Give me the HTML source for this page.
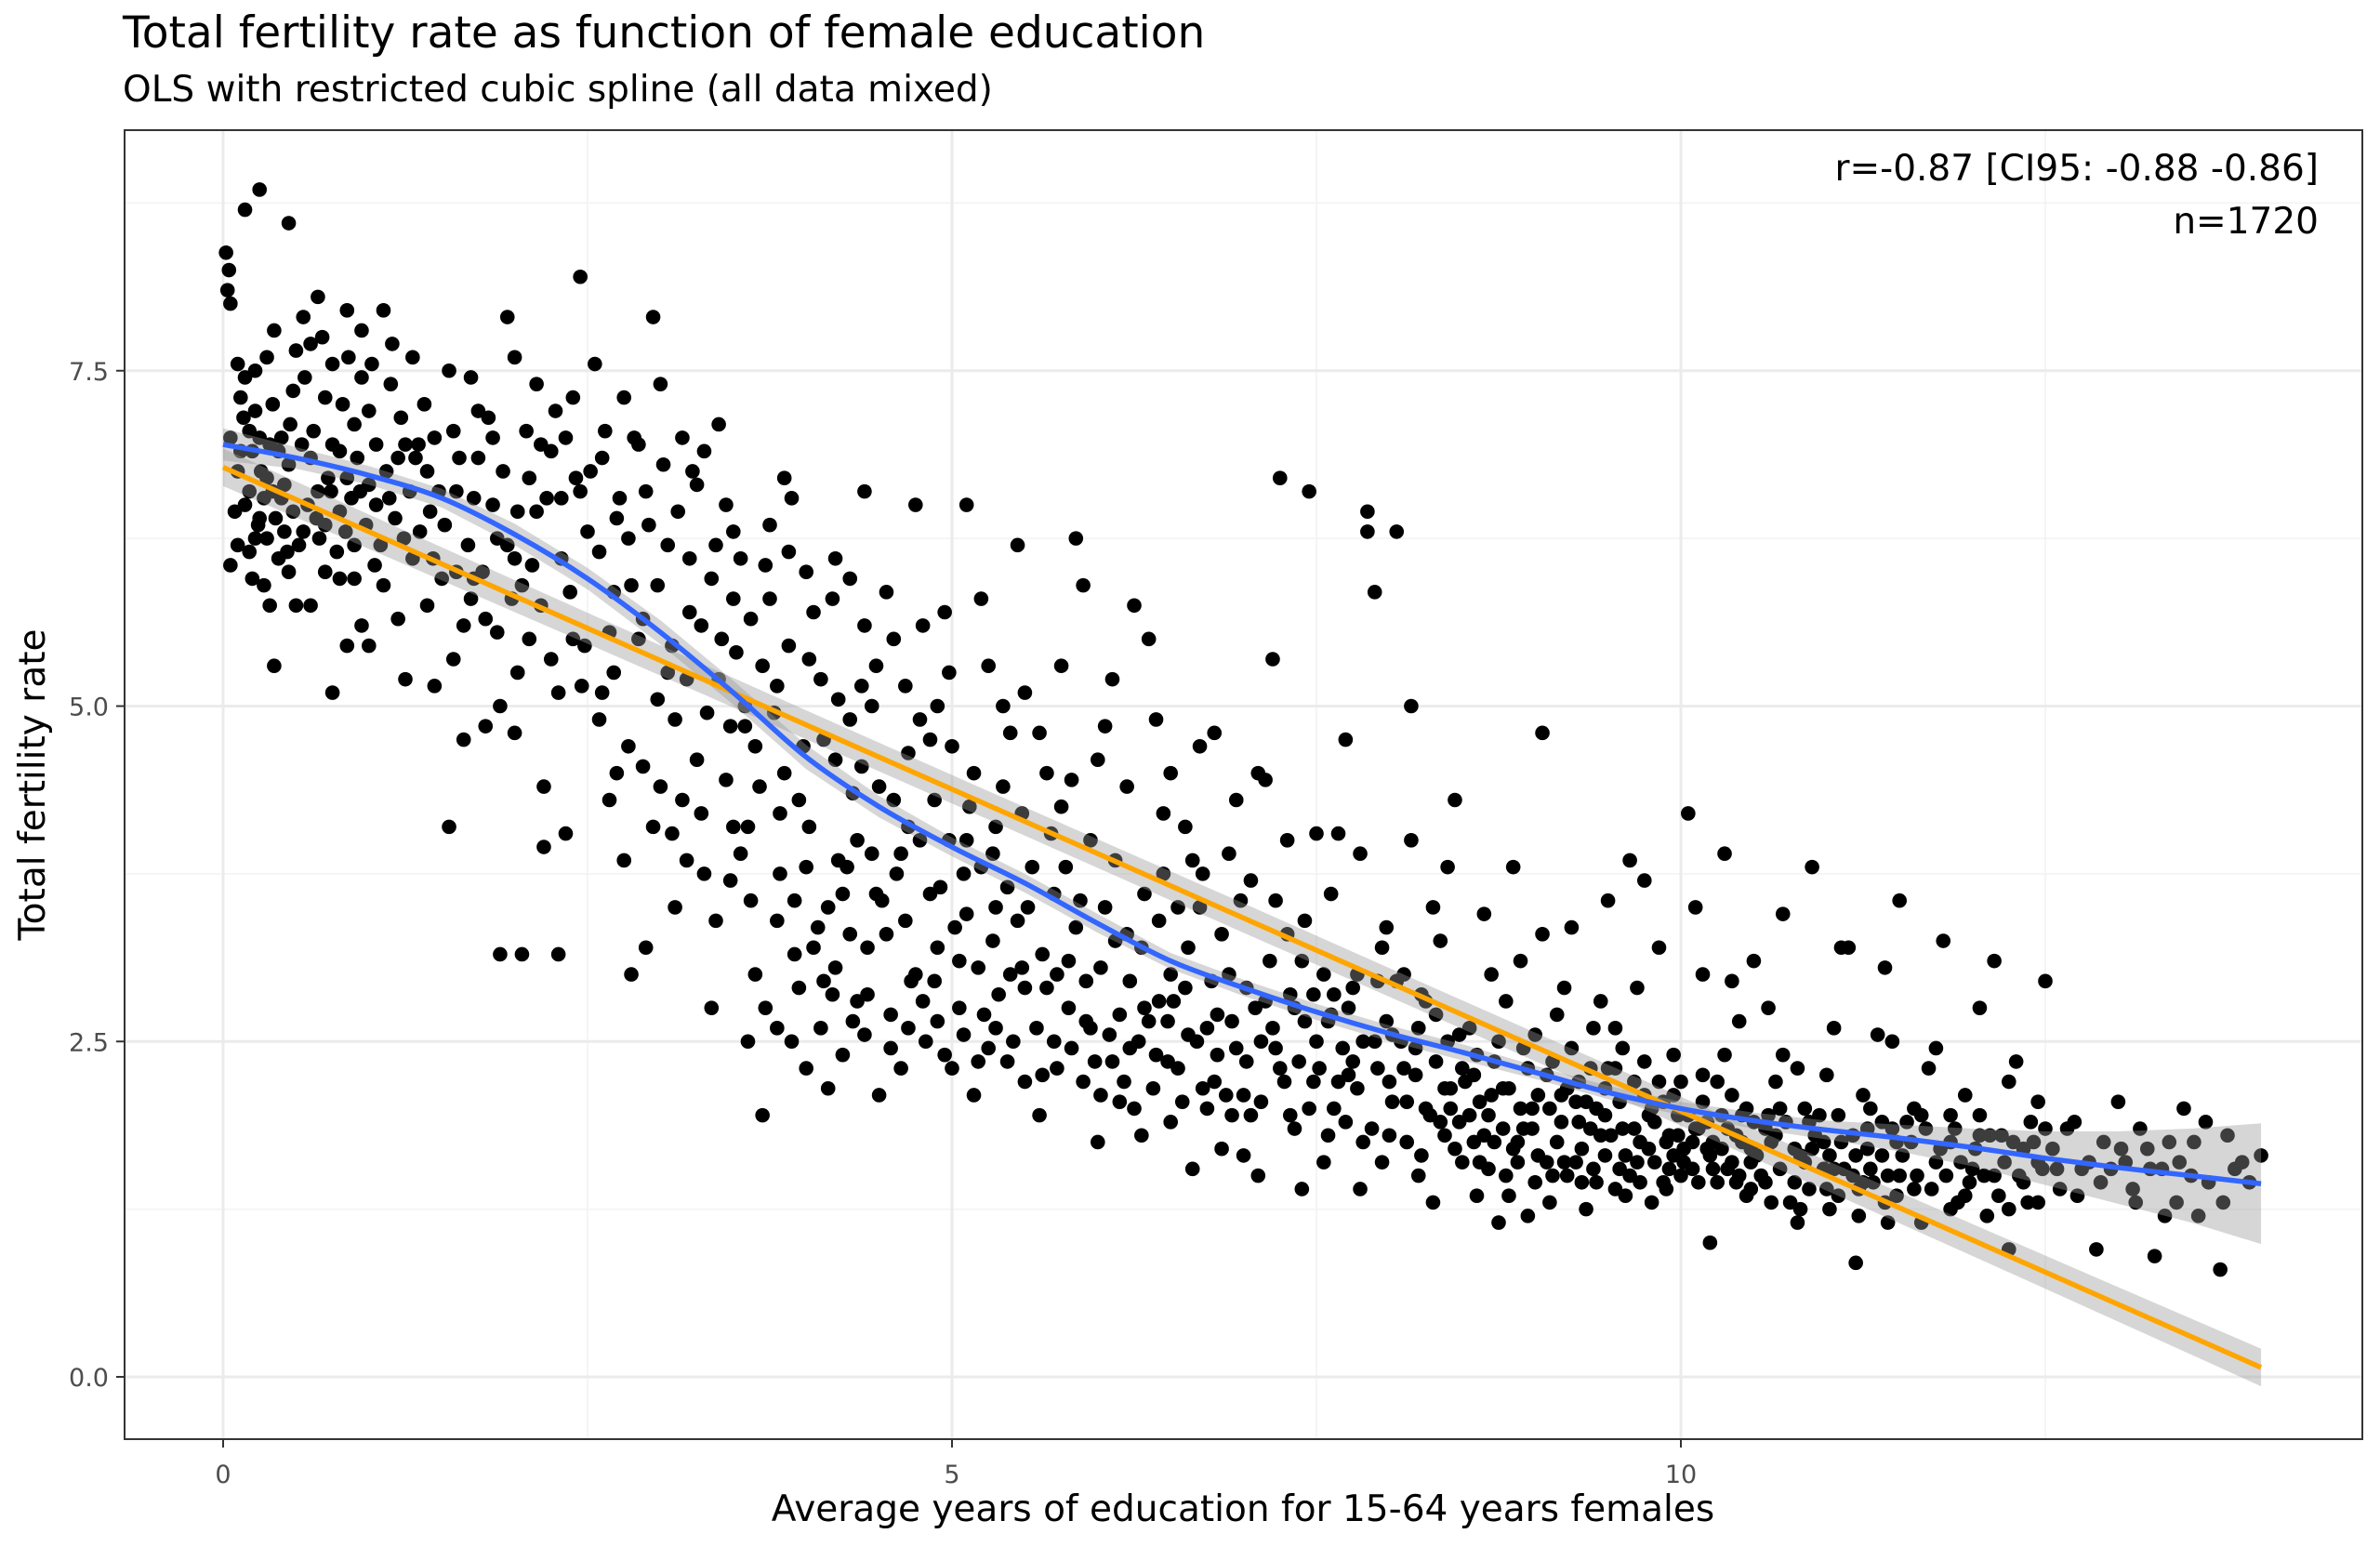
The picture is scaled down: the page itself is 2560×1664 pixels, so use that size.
<!DOCTYPE html>
<html><head><meta charset="utf-8"><style>
html,body{margin:0;padding:0;background:#fff}
svg{display:block}
text{font-family:"DejaVu Sans","Liberation Sans",sans-serif}
</style></head><body>
<svg id="chart" width="2560" height="1664" viewBox="0 0 2560 1664" xmlns="http://www.w3.org/2000/svg">
<rect width="2560" height="1664" fill="#fff"/>
<text x="132" y="51" font-size="47" fill="#000">Total fertility rate as function of female education</text>
<text x="132" y="109" font-size="39" fill="#000">OLS with restricted cubic spline (all data mixed)</text>
<g id="grid"></g>
<g id="pts"></g>
<g id="fits"></g>
<rect x="134" y="140" width="2407" height="1408" fill="none" stroke="#333" stroke-width="2"/>
<g id="ticks"></g>
<text x="2494" y="194" font-size="39" text-anchor="end" fill="#000">r=-0.87 [CI95: -0.88 -0.86]</text>
<text x="2494" y="251" font-size="39" text-anchor="end" fill="#000">n=1720</text>
<text x="1337" y="1636" font-size="39" text-anchor="middle" fill="#000">Average years of education for 15-64 years females</text>
<text x="0" y="0" font-size="39" text-anchor="middle" fill="#000" transform="translate(48,844) rotate(-90)">Total fertility rate</text>
</svg>
<script>
const xTicks=[0,5,10];
const xMinor=[2.5,7.5,12.5];
const yTicks=[0,2.5,5,7.5];
const yTickLabels=["0.0","2.5","5.0","7.5"];
const yMinor=[1.25,3.75,6.25,8.75];
const pointData="0.02,8.38 0.03,8.1 0.05,8.0 0.04,8.25 0.1,7.55 0.15,8.7 0.25,8.85 0.45,8.6 0.05,7.0 0.05,6.05 0.1,6.2 0.12,7.3 0.15,7.45 0.18,6.6 0.2,6.9 0.22,7.2 0.25,6.4 0.28,5.9 0.3,6.7 0.3,7.6 0.32,5.75 0.35,5.3 0.38,6.1 0.4,7.0 0.42,6.3 0.45,6.8 0.48,7.35 0.5,5.75 0.2,5.95 0.35,7.8 0.4,6.55 0.15,6.5 0.25,7.0 0.45,6.0 0.1,6.75 0.3,6.25 0.48,6.45 0.22,7.5 0.38,6.9 0.5,7.65 "+
"0.55,7.9 0.6,7.7 0.65,8.05 0.7,7.3 0.75,7.55 0.8,6.9 0.85,7.95 0.9,6.2 0.95,5.6 1.0,5.45 0.55,6.3 0.6,5.75 0.65,6.6 0.7,6.0 0.75,5.1 0.8,6.45 0.85,6.7 0.9,7.1 0.95,7.8 1.0,7.2 1.05,6.5 1.1,5.9 1.15,7.4 1.2,6.85 1.25,5.2 1.3,7.6 1.35,6.3 1.4,5.75 1.45,7.0 1.5,5.95 0.6,6.85 0.7,6.35 0.8,5.95 0.9,5.95 1.0,6.65 1.1,7.95 1.2,5.65 1.3,6.1 1.4,6.75 1.45,5.15 1.05,6.95 0.95,7.45 0.75,6.95 0.85,5.45 1.25,6.95 "+
"1.55,7.5 1.6,6.6 1.65,4.75 1.7,5.8 1.75,7.2 1.8,4.85 1.85,6.5 1.9,5.0 1.95,7.9 2.0,6.1 2.05,3.15 2.1,5.5 2.15,7.4 2.2,4.4 2.25,6.9 2.3,3.15 2.35,7.0 2.4,5.5 2.45,8.2 2.5,6.3 1.55,4.1 1.6,6.0 1.7,7.45 1.8,5.65 1.9,3.15 2.0,4.8 2.1,6.7 2.2,3.95 2.3,5.1 2.4,7.3 1.65,5.6 1.75,6.85 1.85,7.0 1.95,6.2 2.05,5.9 2.15,6.45 2.25,5.35 2.35,4.05 2.45,6.6 2.0,7.6 "+
"2.55,7.55 2.6,5.1 2.65,4.3 2.7,6.4 2.75,7.3 2.8,3.0 2.85,5.5 2.9,3.2 2.95,7.9 3.0,4.4 3.05,6.2 3.1,3.5 3.15,7.0 3.2,5.7 3.25,4.6 3.3,6.9 3.35,2.75 3.4,5.2 3.45,6.5 3.5,4.1 2.6,6.85 2.7,4.5 2.8,5.9 2.9,6.6 3.0,7.4 3.1,4.9 3.2,6.1 3.3,3.75 3.4,7.1 3.5,5.8 2.65,5.55 2.75,3.85 2.85,6.95 2.95,4.1 3.05,5.25 3.15,4.3 3.25,6.65 3.35,5.95 3.45,4.45 3.5,6.3 "+
"3.55,6.1 3.6,2.5 3.65,4.7 3.7,1.95 3.75,5.8 3.8,3.4 3.85,6.7 3.9,2.5 3.95,4.3 4.0,6.0 4.05,3.2 4.1,5.2 4.15,2.15 4.2,6.1 4.25,3.6 4.3,4.9 4.35,2.8 4.4,5.6 4.45,3.9 4.5,2.1 3.6,4.1 3.7,5.3 3.8,2.6 3.9,6.55 4.0,3.8 4.1,2.6 4.2,4.6 4.3,3.3 4.4,6.6 4.5,4.4 3.65,3.0 3.75,6.35 3.85,4.5 3.95,2.9 4.05,5.7 4.15,3.5 4.25,2.4 4.35,4.0 4.45,5.0 3.55,3.9 3.8,5.15 4.0,2.3 4.2,3.05 4.4,2.55 4.3,5.95 "+
"4.55,3.3 4.6,5.5 4.65,2.3 4.7,4.1 4.75,6.5 4.8,2.8 4.85,3.6 4.9,5.0 4.95,2.4 5.0,4.7 5.05,3.1 5.1,6.5 5.15,2.1 5.2,3.8 5.25,5.3 5.3,2.6 5.35,4.4 5.4,3.0 5.45,6.2 5.5,2.2 4.6,4.3 4.7,2.6 4.8,5.6 4.9,3.2 5.0,2.3 5.1,4.0 5.2,5.8 5.3,3.5 5.4,4.8 5.5,2.9 4.65,3.9 4.75,3.0 4.85,4.75 4.95,5.7 5.05,2.75 5.15,4.5 5.25,2.45 5.35,5.0 5.45,3.4 4.55,5.85 4.7,4.65 4.9,2.65 5.1,3.45 5.3,4.1 5.5,5.1 "+
"5.55,3.8 5.6,1.95 5.65,4.5 5.7,2.5 5.75,5.3 5.8,3.1 5.85,6.25 5.9,2.2 5.95,4.0 6.0,1.75 6.05,3.5 6.1,5.2 6.15,2.7 6.2,4.4 6.25,2.0 6.3,3.2 6.35,5.5 6.4,2.4 6.45,4.2 6.5,1.9 5.6,4.8 5.7,3.6 5.8,2.75 5.9,5.9 6.0,4.6 6.1,2.35 6.2,3.3 6.3,1.8 6.4,4.9 6.5,3.0 5.65,2.9 5.75,4.25 5.85,3.35 5.95,2.6 6.05,4.85 6.15,2.05 6.25,5.75 6.35,2.65 6.45,3.75 6.5,4.5 "+
"6.55,2.3 6.6,4.1 6.65,1.55 6.7,3.5 6.75,2.6 6.8,4.8 6.85,1.7 6.9,3.0 6.95,4.3 7.0,2.1 7.05,3.7 7.1,1.5 7.15,2.8 7.2,5.35 7.25,2.3 7.3,4.0 7.35,1.85 7.4,3.1 7.45,6.6 7.5,2.5 6.6,2.9 6.7,4.7 6.8,2.2 6.9,3.9 7.0,1.65 7.1,4.5 7.2,2.6 7.3,3.3 7.4,1.4 7.5,4.05 6.65,3.85 6.75,2.0 6.85,3.3 6.95,2.45 7.05,1.95 7.15,4.45 7.25,6.7 7.35,2.75 7.45,2.0 6.55,3.5 "+
"7.55,1.6 7.6,3.6 7.65,2.2 7.7,4.75 7.75,2.9 7.8,1.4 7.85,6.45 7.9,2.5 7.95,3.2 8.0,1.8 8.05,6.3 8.1,2.3 8.15,4.0 8.2,1.5 8.25,2.8 8.3,3.5 8.35,1.9 8.4,2.5 8.45,4.3 8.5,1.6 7.6,2.7 7.7,1.9 7.8,3.9 7.9,5.85 8.0,2.2 8.1,3.0 8.2,2.6 8.3,1.3 8.4,3.8 8.5,2.3 7.65,4.05 7.75,2.35 7.85,6.3 7.95,1.6 8.05,2.95 8.15,5.0 8.25,2.0 8.35,3.25 8.45,1.7 7.55,3.0 "+
"8.55,2.6 8.6,1.35 8.65,3.45 8.7,2.1 8.75,1.15 8.8,2.8 8.85,1.7 8.9,3.1 8.95,2.3 9.0,1.45 9.05,4.8 9.1,2.0 9.15,2.7 9.2,1.6 9.25,3.35 9.3,2.2 9.35,1.25 9.4,2.6 9.45,1.8 9.5,3.55 8.6,2.4 8.7,3.0 8.8,1.5 8.9,2.0 9.0,2.55 9.1,1.3 9.2,2.9 9.3,1.9 9.4,1.55 9.5,2.3 8.65,1.8 8.75,2.5 8.85,3.8 8.95,1.2 9.05,3.3 9.15,1.75 9.25,2.45 9.35,2.05 9.45,2.8 8.55,1.95 "+
"9.55,1.4 9.6,2.45 9.65,3.85 9.7,1.6 9.75,2.1 9.8,1.3 9.85,3.2 9.9,1.75 9.95,2.4 10.0,1.5 10.05,4.2 10.1,1.85 10.15,3.0 10.2,1.0 10.25,2.2 10.3,3.9 10.35,1.6 10.4,2.65 10.45,1.35 10.5,1.9 9.6,1.85 9.7,2.9 9.8,2.0 9.9,1.4 10.0,2.2 10.1,3.5 10.2,1.65 10.3,2.4 10.4,1.5 10.5,3.1 9.65,1.5 9.75,3.7 9.85,2.2 9.95,1.65 10.05,1.95 10.15,2.05 10.25,1.45 10.35,2.95 10.45,2.0 9.55,2.6 "+
"10.55,1.5 10.6,2.75 10.65,1.8 10.7,3.45 10.75,1.3 10.8,2.3 10.85,1.6 10.9,3.8 10.95,1.95 11.0,1.4 11.05,2.6 11.1,1.75 11.15,3.2 11.2,0.85 11.25,2.1 11.3,1.55 11.35,2.55 11.4,1.3 11.45,1.85 11.5,3.55 10.6,1.95 10.7,2.4 10.8,1.15 10.9,1.7 11.0,2.25 11.1,3.2 11.2,1.65 11.3,2.0 11.4,3.05 11.5,1.5 10.65,2.2 10.85,2.0 11.05,1.55 11.25,1.45 11.45,2.5 "+
"11.55,1.9 11.6,1.4 11.7,2.3 11.75,1.6 11.8,3.25 11.85,1.75 11.9,1.3 11.95,2.1 12.0,1.55 12.05,2.75 12.1,1.2 12.15,3.1 12.2,1.8 12.25,0.95 12.3,2.35 12.35,1.45 12.4,1.9 12.45,1.6 12.5,2.95 11.65,1.15 11.75,2.45 11.85,1.95 11.95,1.35 12.05,1.8 12.15,1.5 12.25,2.2 12.35,1.7 12.45,1.3 11.6,2.0 12.5,1.85 "+
"12.55,1.7 12.6,1.4 12.7,1.9 12.75,1.55 12.85,0.95 12.9,1.75 13.0,2.05 13.05,1.6 13.1,1.4 13.15,1.85 13.25,0.9 13.3,1.55 13.35,1.75 13.45,2.0 13.5,1.5 13.55,1.2 13.6,1.9 13.7,0.8 13.75,1.8 13.8,1.55 13.85,1.6 13.98,1.65 13.4,1.3 13.2,1.7 "+
"0.08,6.45 0.12,6.9 0.18,7.05 0.22,6.25 0.28,6.55 0.32,6.95 0.36,6.4 0.42,6.65 0.46,7.1 0.52,6.2 0.58,6.5 0.62,7.05 0.66,6.25 0.72,6.7 0.78,6.15 0.82,7.25 0.88,6.55 0.92,6.85 0.98,6.35 1.02,7.55 1.08,6.2 1.12,6.75 1.18,6.4 1.22,7.15 1.28,6.6 1.32,6.85 1.38,7.25 1.42,6.45 1.48,6.6 0.18,6.15 0.26,6.75 0.34,6.6 0.44,6.15 0.54,6.95 0.64,6.4 0.74,6.6 0.84,6.3 0.94,6.6 1.04,6.05 1.14,6.55 1.24,6.25 1.34,6.95 1.44,6.1 0.14,7.15 0.24,6.35 0.34,7.25 0.56,7.45 0.68,7.75 0.86,7.6 1.16,7.7 "+
"1.52,6.35 1.58,7.05 1.62,6.85 1.68,6.2 1.72,6.55 1.78,6.0 1.82,7.15 1.88,5.55 1.92,6.75 1.98,5.8 2.02,6.45 2.08,7.05 2.12,6.05 2.18,5.75 2.22,6.55 2.28,7.2 2.32,6.1 2.38,5.85 2.42,6.7 2.48,5.45 1.58,5.35 1.72,5.95 1.88,6.25 2.02,5.25 2.18,6.95 2.32,6.55 2.46,5.15 "+
"2.52,6.75 2.58,6.15 2.62,7.05 2.68,5.85 2.72,6.55 2.78,6.25 2.82,7.0 2.88,5.65 2.92,6.35 2.98,5.9 3.02,6.8 3.08,5.45 3.12,6.45 3.18,5.2 3.22,6.75 3.28,5.6 3.32,4.95 3.38,6.2 3.42,5.5 3.48,4.85 2.58,4.9 2.68,5.25 2.78,4.7 2.88,4.55 2.98,5.05 3.08,4.05 3.18,3.85 3.28,4.2 3.38,3.4 3.48,3.7 "+
"3.52,5.4 3.58,4.85 3.62,5.65 3.68,4.4 3.72,6.05 3.78,4.95 3.82,3.75 3.88,5.45 3.92,3.55 3.98,4.7 4.02,5.35 4.08,3.35 4.12,4.75 4.18,2.85 4.22,5.05 4.28,3.8 4.32,2.65 4.38,4.55 4.42,3.2 4.48,5.3 3.62,3.55 3.72,2.75 3.82,4.2 3.92,3.15 4.02,4.1 4.12,2.95 4.22,3.85 4.32,4.35 4.42,2.85 4.48,3.6 3.58,5.0 3.88,6.15 4.18,5.8 4.38,5.15 "+
"4.52,3.55 4.58,2.7 4.62,3.75 4.68,5.15 4.72,2.95 4.78,4.0 4.82,2.5 4.88,4.3 4.92,3.65 4.98,5.25 5.02,3.35 5.08,2.55 5.12,4.25 5.18,3.05 5.22,2.7 5.28,3.9 5.32,2.85 5.38,3.65 5.42,2.5 5.48,4.2 4.58,2.45 4.68,3.4 4.78,4.9 4.88,2.95 4.98,4.0 5.08,3.75 5.18,2.35 5.28,3.25 5.38,2.35 5.48,3.05 "+
"5.52,3.5 5.58,2.6 5.62,3.15 5.68,4.05 5.72,2.3 5.78,3.8 5.82,2.45 5.88,3.55 5.92,2.95 5.98,2.35 6.02,3.05 6.08,2.55 6.12,3.85 6.18,2.2 6.22,2.95 6.28,2.5 6.32,3.6 6.38,2.15 6.42,2.8 6.48,2.35 5.62,2.25 5.72,3.0 5.82,4.45 5.92,2.65 6.02,2.1 6.12,3.25 6.22,2.45 6.32,2.75 6.42,3.4 6.48,2.65 "+
"6.52,2.8 6.58,2.05 6.62,3.2 6.68,2.5 6.72,2.15 6.78,2.95 6.82,2.4 6.88,2.1 6.92,2.65 6.98,3.55 7.02,2.35 7.08,2.75 7.12,2.05 7.18,3.1 7.22,2.45 7.28,2.2 7.32,2.85 7.38,2.35 7.42,2.65 7.48,2.2 6.62,2.55 6.72,3.75 6.82,2.7 6.92,1.95 7.02,2.9 7.12,2.5 7.22,3.55 7.32,1.95 7.42,3.4 7.48,2.85 "+
"7.52,2.3 7.58,2.65 7.62,2.0 7.68,2.45 7.72,2.75 7.78,2.15 7.82,2.5 7.88,1.85 7.92,2.3 7.98,2.65 8.02,2.05 8.08,2.5 8.12,1.75 8.18,2.25 8.22,2.85 8.28,1.95 8.32,2.35 8.38,1.8 8.42,2.15 8.48,2.55 7.62,2.85 7.72,2.25 7.82,1.75 7.92,2.95 8.02,2.55 8.12,2.05 8.22,1.65 8.32,2.7 8.42,2.0 8.48,1.9 7.58,1.8 7.78,3.0 7.98,3.35 8.18,2.45 8.38,2.15 "+
"8.52,2.2 8.58,1.75 8.62,2.05 8.68,1.55 8.72,2.35 8.78,1.85 8.82,2.15 8.88,1.6 8.92,2.45 8.98,1.85 9.02,2.1 9.08,1.6 9.12,2.35 9.18,1.9 9.22,1.5 9.28,2.05 9.32,1.7 9.38,2.3 9.42,1.45 9.48,1.95 8.58,2.25 8.68,1.95 8.78,2.15 8.88,1.75 8.98,2.0 9.08,2.25 9.18,2.1 9.28,1.6 9.38,1.85 9.48,2.15 8.62,1.6 8.72,1.75 8.82,1.35 8.92,1.85 9.02,1.65 9.12,1.5 9.22,2.15 9.32,1.45 9.42,2.0 9.48,1.65 "+
"9.52,1.8 9.58,2.05 9.62,1.65 9.68,1.85 9.72,1.45 9.78,1.95 9.82,1.6 9.88,2.05 9.92,1.55 9.98,1.8 10.02,1.6 10.08,1.75 10.12,1.45 10.18,1.9 10.22,1.55 10.28,1.7 10.32,1.85 10.38,1.45 10.42,1.75 10.48,1.6 9.58,1.55 9.68,2.2 9.78,1.7 9.88,1.45 9.98,1.95 10.08,1.55 10.18,1.7 10.28,1.95 10.38,1.8 10.48,1.4 9.62,1.35 9.72,1.75 9.82,1.9 9.92,1.8 10.02,1.7 10.12,1.85 10.22,1.75 10.32,1.55 10.42,1.95 10.48,1.7 9.55,2.3 9.75,2.35 9.95,2.1 10.15,2.25 10.35,2.1 "+
"10.52,1.65 10.58,1.45 10.62,1.75 10.68,1.55 10.72,1.9 10.78,1.45 10.82,1.65 10.88,1.4 10.92,1.8 10.98,1.55 11.02,1.65 11.08,1.35 11.12,1.55 11.18,1.8 11.22,1.4 11.28,1.7 11.32,1.45 11.38,1.65 11.42,1.5 11.48,1.75 10.58,1.85 10.68,2.0 10.78,1.7 10.88,1.9 10.98,1.75 11.08,1.95 11.18,1.5 11.28,1.85 11.38,1.9 11.48,1.35 10.62,1.3 10.82,1.25 11.02,1.25 11.22,1.2 11.42,1.15 "+
"11.52,1.65 11.58,1.75 11.62,1.5 11.68,1.85 11.72,1.4 11.78,1.7 11.82,1.5 11.88,1.85 11.92,1.6 11.98,1.45 12.02,1.7 12.08,1.5 12.12,1.8 12.18,1.35 12.22,1.6 12.28,1.75 12.32,1.5 12.38,1.3 12.42,1.75 12.48,1.55 11.65,1.95 11.85,1.25 12.05,1.95 12.25,1.25 12.45,2.05 "+
"12.58,1.55 12.65,1.85 12.72,1.35 12.8,1.6 12.88,1.45 12.95,1.55 13.02,1.7 13.12,1.3 13.22,1.55 13.32,1.2 13.42,1.6 13.52,1.75 13.62,1.45 13.72,1.3 13.9,1.45";
const ptX=pointData.split(" ").map(s=>+s.split(",")[0]);
const ptY=pointData.split(" ").map(s=>+s.split(",")[1]);
const splineX=[0,0.5,1,1.5,2,2.5,3,3.5,4,4.5,5,5.5,6,6.5,7,7.5,8,8.5,9,9.5,10,10.5,11,11.5,12,12.5,13,13.5,13.98];
const splineY=[6.95,6.85,6.72,6.55,6.28,5.95,5.55,5.1,4.62,4.25,3.95,3.68,3.38,3.1,2.9,2.72,2.56,2.42,2.27,2.12,2.0,1.91,1.84,1.78,1.71,1.63,1.56,1.5,1.44];
const splineCI=[0.12,0.08,0.07,0.07,0.08,0.08,0.09,0.09,0.09,0.08,0.07,0.07,0.07,0.06,0.06,0.06,0.06,0.06,0.05,0.05,0.05,0.06,0.07,0.1,0.14,0.2,0.27,0.35,0.45];
const linX=[0,13.98];
const linY=[6.78,0.07];
const linCI=[0.08,0.14];
const X0=240,XS=156.8,Y0=1481,YS=144.3;
const sx=v=>X0+v*XS, sy=v=>Y0-v*YS;
const NS="http://www.w3.org/2000/svg";
function mk(tag,attrs,parent){const e=document.createElementNS(NS,tag);for(const k in attrs)e.setAttribute(k,attrs[k]);parent.appendChild(e);return e;}
const grid=document.getElementById('grid');
xMinor.forEach(v=>{const l=mk('line',{x1:sx(v),x2:sx(v),y1:140,y2:1548,stroke:'#f2f2f2','stroke-width':1.5},grid);

});
yMinor.forEach(v=>{const l=mk('line',{x1:134,x2:2541,y1:sy(v),y2:sy(v),stroke:'#f2f2f2','stroke-width':1.5},grid);

});
xTicks.forEach(v=>{const l=mk('line',{x1:sx(v),x2:sx(v),y1:140,y2:1548,stroke:'#ebebeb','stroke-width':3},grid);

});
yTicks.forEach(v=>{const l=mk('line',{x1:134,x2:2541,y1:sy(v),y2:sy(v),stroke:'#ebebeb','stroke-width':3},grid);

});
const pts=document.getElementById('pts');
ptX.forEach((x,i)=>{const c=mk('circle',{cx:sx(x),cy:sy(ptY[i]),r:7.8,fill:'#000'},pts);

});
const fits=document.getElementById('fits');
let up='',dn='';
splineX.forEach((x,i)=>{up+=(i?'L':'M')+sx(x)+','+sy(splineY[i]+splineCI[i]);});
for(let i=splineX.length-1;i>=0;i--)dn+='L'+sx(splineX[i])+','+sy(splineY[i]-splineCI[i]);
const rb=mk('path',{d:up+dn+'Z',fill:'#999','fill-opacity':0.4},fits);


const N=30;let lu='',ld='';
for(let i=0;i<=N;i++){const t=i/N,x=linX[0]+t*(linX[1]-linX[0]),y=linY[0]+t*(linY[1]-linY[0]),w=linCI[0]+(linCI[1]-linCI[0])*Math.abs(2*t-1)**2+0.03*(1-Math.abs(2*t-1));lu+=(i?'L':'M')+sx(x)+','+sy(y+w);}
for(let i=N;i>=0;i--){const t=i/N,x=linX[0]+t*(linX[1]-linX[0]),y=linY[0]+t*(linY[1]-linY[0]),w=linCI[0]+(linCI[1]-linCI[0])*Math.abs(2*t-1)**2+0.03*(1-Math.abs(2*t-1));ld+='L'+sx(x)+','+sy(y-w);}
const rb2=mk('path',{d:lu+ld+'Z',fill:'#999','fill-opacity':0.4},fits);


const ol=mk('path',{d:'M'+sx(linX[0])+','+sy(linY[0])+'L'+sx(linX[1])+','+sy(linY[1]),stroke:'#FFA500','stroke-width':5.5,fill:'none'},fits);


let d='M'+sx(splineX[0])+','+sy(splineY[0]);
for(let i=0;i<splineX.length-1;i++){const p0=i?i-1:0,p3=Math.min(i+2,splineX.length-1);
const x1=sx(splineX[i])+(sx(splineX[i+1])-sx(splineX[p0]))/6,y1=sy(splineY[i])+(sy(splineY[i+1])-sy(splineY[p0]))/6;
const x2=sx(splineX[i+1])-(sx(splineX[p3])-sx(splineX[i]))/6,y2=sy(splineY[i+1])-(sy(splineY[p3])-sy(splineY[i]))/6;
d+='C'+x1+','+y1+' '+x2+','+y2+' '+sx(splineX[i+1])+','+sy(splineY[i+1]);}
const bl=mk('path',{d:d,stroke:'#3366FF','stroke-width':5.5,fill:'none'},fits);


const ticks=document.getElementById('ticks');
xTicks.forEach(v=>{const l=mk('line',{x1:sx(v),x2:sx(v),y1:1548,y2:1557,stroke:'#333','stroke-width':2},ticks);


const t=mk('text',{x:sx(v),y:1595,'font-size':27,'text-anchor':'middle',fill:'#4d4d4d'},ticks);t.textContent=String(v);

});
yTicks.forEach((v,i)=>{const l=mk('line',{x1:125,x2:134,y1:sy(v),y2:sy(v),stroke:'#333','stroke-width':2},ticks);


const t=mk('text',{x:117,y:sy(v)+10,'font-size':27,'text-anchor':'end',fill:'#4d4d4d'},ticks);t.textContent=yTickLabels[i];

});
</script>
</body></html>
